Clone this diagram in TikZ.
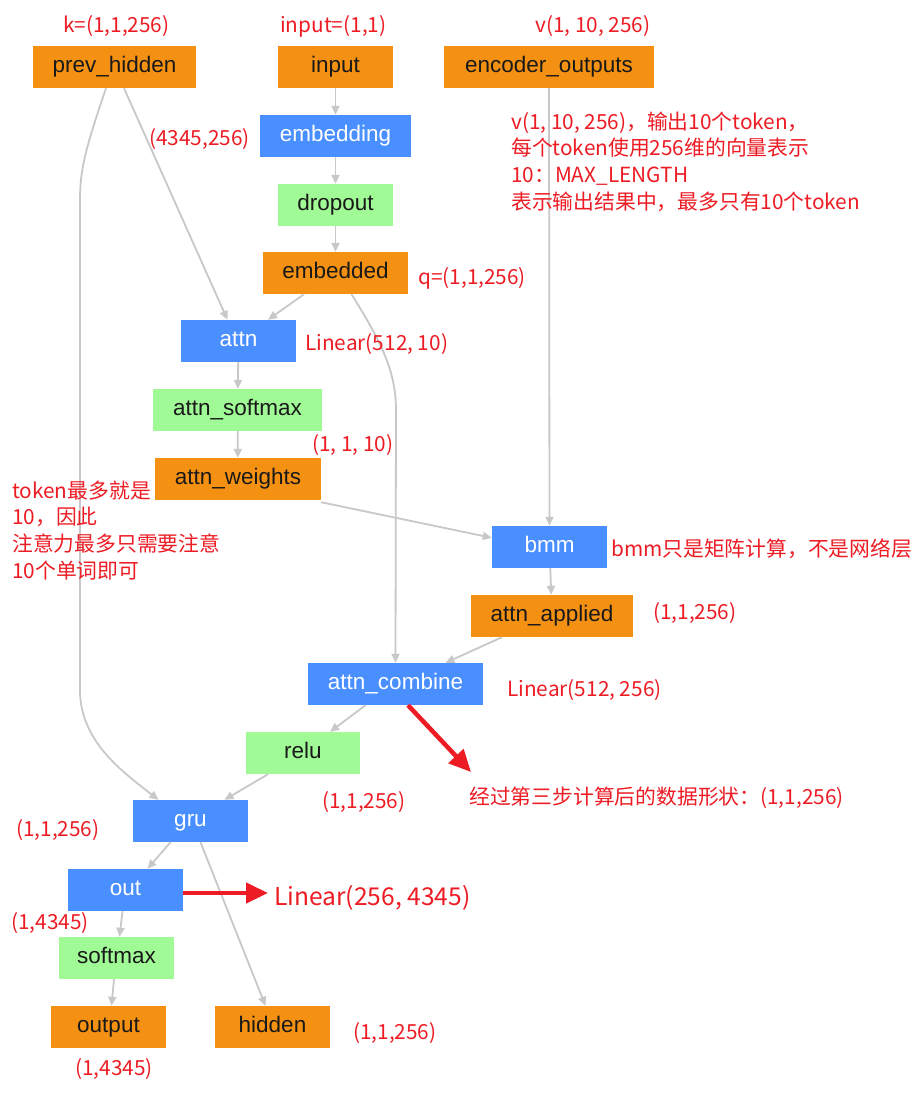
\documentclass[tikz,border=0pt]{standalone}
\usepackage{fontspec}
\setmainfont{Liberation Sans}
\newfontfamily\cjk{Noto Sans CJK SC}
\usetikzlibrary{arrows.meta}
\definecolor{ora}{RGB}{245,145,18}
\definecolor{blu}{RGB}{74,143,255}
\definecolor{grn}{RGB}{160,250,150}
\definecolor{lgray}{RGB}{200,200,200}
\definecolor{annred}{RGB}{237,28,36}
\tikzset{
  box/.style={draw=none, minimum height=42pt, inner sep=0pt, text height=16.2pt, text depth=4.5pt, font=\fontsize{22.5}{26}\selectfont},
  obox/.style={box, fill=ora, text=black!90},
  bbox/.style={box, fill=blu, text=white},
  gbox/.style={box, fill=grn, text=black!90},
  conn/.style={draw=lgray, line width=1.8pt, -{Triangle[length=9pt,width=8pt]}},
  redarrow/.style={draw=annred, line width=4.5pt, -{Triangle[length=22pt,width=20pt]}},
  ann/.style={text=annred, inner sep=0pt, yshift=-2.5pt, font=\cjk\fontsize{20.8}{26.6}\selectfont},
  annbig/.style={text=annred, inner sep=0pt, yshift=-2.5pt, font=\cjk\fontsize{24.6}{28}\selectfont},
}
\begin{document}
\begin{tikzpicture}[x=1pt,y=-1pt]
\fill[white] (0,0) rectangle (915,1093);
\useasboundingbox (0,0) rectangle (915,1093);

% nodes
\node[obox, minimum width=163pt] (ph) at (114.5,67) {prev\_hidden};
\node[obox, minimum width=115pt] (inp) at (335.5,67) {input};
\node[obox, minimum width=210pt] (enc) at (549,67) {encoder\_outputs};
\node[bbox, minimum width=151pt] (emb) at (335.5,136) {embedding};
\node[gbox, minimum width=115pt] (drop) at (335.5,205) {dropout};
\node[obox, minimum width=145pt] (embd) at (335.5,273) {embedded};
\node[bbox, minimum width=115pt] (attn) at (238.5,341) {attn};
\node[gbox, minimum width=169pt] (asm) at (237.5,410) {attn\_softmax};
\node[obox, minimum width=166pt] (aw) at (238,479) {attn\_weights};
\node[bbox, minimum width=115pt] (bmm) at (549.5,547) {bmm};
\node[obox, minimum width=162pt] (aa) at (552,616) {attn\_applied};
\node[bbox, minimum width=175pt] (ac) at (395.5,684) {attn\_combine};
\node[gbox, minimum width=114pt] (relu) at (303,753) {relu};
\node[bbox, minimum width=115pt] (gru) at (190.5,821) {gru};
\node[bbox, minimum width=115pt] (out) at (125.5,890) {out};
\node[gbox, minimum width=115pt] (sm) at (116.5,958) {softmax};
\node[obox, minimum width=115pt] (outp) at (108.5,1027) {output};
\node[obox, minimum width=115pt] (hid) at (272.5,1027) {hidden};

% connectors
\draw[conn] (inp) -- (emb);
\draw[conn] (emb) -- (drop);
\draw[conn] (drop) -- (embd);
\draw[conn] ([xshift=9.5pt]ph.south) -- ([xshift=-11pt]attn.north);
\draw[conn] ([xshift=-31.5pt]embd.south) -- ([xshift=29.5pt]attn.north);
\draw[conn] ([xshift=16pt]embd.south) .. controls (380,340) and (396,370) .. (396,410) -- (ac.north);
\draw[conn] (attn) -- (asm);
\draw[conn] (asm) -- (aw);
\draw[conn] ([yshift=-2pt]aw.south east) -- ([yshift=-12pt]bmm.north west);
\draw[conn] (enc) -- (bmm);
\draw[conn] (bmm) -- (aa);
\draw[conn] ([xshift=-50pt]aa.south) -- ([xshift=50pt]ac.north);
\draw[conn] ([xshift=-30pt]ac.south) -- ([xshift=27pt]relu.north);
\draw[conn] ([xshift=-35pt]relu.south) -- ([xshift=34pt]gru.north);
\draw[conn] ([xshift=-8.5pt]ph.south) .. controls (85,150) and (80,170) .. (80,200) -- (80,690) .. controls (80,740) and (120,770) .. ([xshift=-32pt]gru.north);
\draw[conn] ([xshift=-20pt]gru.south) -- ([xshift=22pt]out.north);
\draw[conn] ([xshift=10pt]gru.south) -- ([xshift=-7pt]hid.north);
\draw[conn] ([xshift=-3pt]out.south) -- ([xshift=3pt]sm.north);
\draw[conn] ([xshift=-2.5pt]sm.south) -- ([xshift=3pt]outp.north);

% red arrows
\coordinate (r1) at (471,772);
\draw[redarrow] ([xshift=12.5pt]ac.south) -- (r1);
\node[annbig, anchor=west] (lin2) at (274,895) {Linear(256, 4345)};
\draw[redarrow] ([yshift=-3pt]out.east) -- ([yshift=4.5pt,xshift=-6pt]lin2.west);

% annotations
\node[ann, anchor=west] (k) at (63,24) {k=(1,1,256)};
\node[ann, anchor=west] (inl) at (280,24) {input=(1,1)};
\node[ann, anchor=west] (vl) at (535,24) {v(1, 10, 256)};
\node[ann, anchor=west] (w1) at (149,137) {(4345,256)};
\node[ann, anchor=north west, align=left] (vblock) at (511,109) {v(1, 10, 256)，输出10个token，\\每个token使用256维的向量表示\\10：MAX\_LENGTH\\表示输出结果中，最多只有10个token};
\node[ann, anchor=west] (q) at (418,276) {q=(1,1,256)};
\node[ann, anchor=west] (lin1) at (305,342) {Linear(512, 10)};
\node[ann, anchor=west] (s110) at (312,443) {(1, 1, 10)};
\node[ann, anchor=north west, align=left] (tblock) at (12,478) {token最多就是\\10，因此\\注意力最多只需要注意\\10个单词即可};
\node[ann, anchor=west] (bmml) at (611,546) {bmm只是矩阵计算，不是网络层};
\node[ann, anchor=west] (aal) at (653,611) {(1,1,256)};
\node[ann, anchor=west] (lin3) at (507,688) {Linear(512, 256)};
\node[ann, anchor=west] (relul) at (322,800) {(1,1,256)};
\node[ann, anchor=west] (shape) at (469,795) {经过第三步计算后的数据形状：(1,1,256)};
\node[ann, anchor=west] (grul) at (16,828) {(1,1,256)};
\node[ann, anchor=west] (outl) at (11,921) {(1,4345)};
\node[ann, anchor=west] (outpl) at (75,1067) {(1,4345)};
\node[ann, anchor=west] (hidl) at (353,1031) {(1,1,256)};
\end{tikzpicture}
\end{document}
